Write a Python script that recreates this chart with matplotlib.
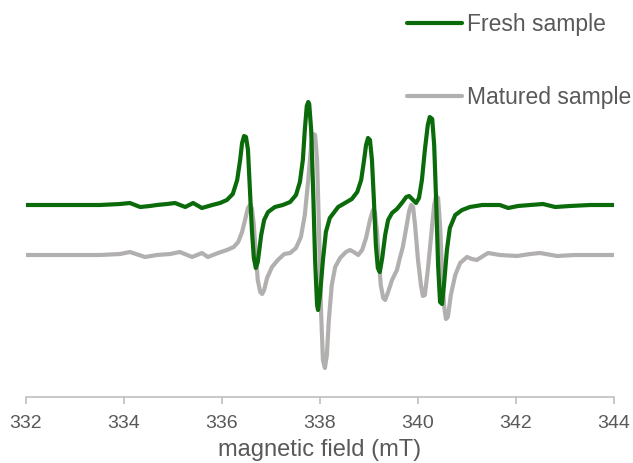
import matplotlib
matplotlib.use("Agg")
import matplotlib.pyplot as plt
import numpy as np

# ---- data ----
fresh_field = [332.00, 332.69, 333.51, 333.92, 334.12, 334.33, 334.53, 334.67, 334.88, 335.04,
               335.25, 335.41, 335.59, 335.80, 335.96, 336.10, 336.22, 336.31, 336.37, 336.41,
               336.45, 336.49, 336.53, 336.57, 336.61, 336.65, 336.69, 336.73, 336.80, 336.86,
               336.94, 337.08, 337.24, 337.39, 337.51, 337.59, 337.65, 337.69, 337.73, 337.76,
               337.78, 337.82, 337.86, 337.90, 337.94, 337.96, 338.00, 338.06, 338.12, 338.20,
               338.37, 338.51, 338.65, 338.76, 338.84, 338.90, 338.94, 338.98, 339.02, 339.06,
               339.10, 339.14, 339.18, 339.22, 339.27, 339.33, 339.39, 339.47, 339.57, 339.67,
               339.76, 339.82, 339.88, 339.96, 340.02, 340.08, 340.14, 340.20, 340.24, 340.29,
               340.33, 340.37, 340.41, 340.45, 340.49, 340.53, 340.59, 340.65, 340.76, 340.90,
               341.06, 341.31, 341.67, 341.84, 342.04, 342.29, 342.55, 342.80, 343.10, 343.51,
               344.00]
fresh_signal = [0, 0, 0, 1, 2, -2, -1, 0, 1, 2,
                -2, 2, -3, 0, 2, 5, 11, 25, 45, 62,
                69, 68, 55, 15, -25, -53, -63, -57, -30, -15,
                -7, -2, 0, 3, 10, 23, 45, 75, 99, 103,
                101, 75, 15, -55, -100, -105, -90, -55, -27, -13,
                -2, 2, 6, 13, 25, 45, 60, 67, 65, 45,
                5, -40, -63, -67, -53, -30, -15, -8, -4, 2,
                8, 9, 6, 2, 7, 25, 55, 80, 88, 86,
                60, 5, -60, -97, -99, -80, -45, -23, -10, -5,
                -2, 0, 0, -3, -1, 0, 1, -2, -1, 0,
                0]

matured_field = [332.00, 332.69, 333.51, 333.92, 334.12, 334.43, 334.67, 334.94, 335.14, 335.39,
                 335.59, 335.71, 335.92, 336.10, 336.24, 336.33, 336.41, 336.47, 336.53, 336.57,
                 336.61, 336.65, 336.69, 336.73, 336.78, 336.82, 336.86, 336.92, 337.02, 337.14,
                 337.27, 337.39, 337.51, 337.61, 337.69, 337.76, 337.82, 337.86, 337.90, 337.94,
                 337.98, 338.02, 338.06, 338.10, 338.14, 338.18, 338.24, 338.31, 338.41, 338.53,
                 338.61, 338.69, 338.78, 338.86, 338.94, 339.02, 339.08, 339.12, 339.16, 339.20,
                 339.24, 339.29, 339.33, 339.39, 339.47, 339.57, 339.63, 339.69, 339.76, 339.82,
                 339.86, 339.90, 339.94, 340.00, 340.06, 340.10, 340.14, 340.20, 340.27, 340.33,
                 340.37, 340.41, 340.45, 340.49, 340.53, 340.57, 340.61, 340.67, 340.76, 340.86,
                 341.00, 341.10, 341.20, 341.33, 341.43, 341.67, 342.02, 342.29, 342.49, 342.84,
                 343.20, 343.61, 344.00]
matured_signal = [0, 0, 0, 1, 3, -2, 0, 1, 3, -2,
                  2, -2, 2, 5, 8, 13, 23, 35, 47, 50,
                  47, 30, 0, -25, -37, -39, -35, -23, -12, -5,
                  1, 2, 7, 18, 40, 75, 110, 121, 120, 95,
                  25, -55, -105, -113, -100, -65, -30, -12, -3, 3,
                  5, 3, 0, 5, 17, 35, 45, 43, 25, -5,
                  -30, -43, -45, -37, -25, -15, -3, 8, 27, 44,
                  50, 48, 30, -5, -30, -41, -40, -15, 20, 50,
                  59, 57, 30, -15, -50, -64, -62, -40, -20, -8,
                  -2, -4, -5, -1, 2, 0, -1, 1, 2, -1,
                  0, 0, 0]

series_labels = ["Fresh sample", "Matured sample"]
xticks = [332, 334, 336, 338, 340, 342, 344]
xlabel = "magnetic field (mT)"

# ---- styling ----
fresh_offset = 192
matured_offset = 142
green = "#0b6b0b"
grey = "#b2afaf"
text_col = "#595959"

plt.rcParams["font.family"] = ["Liberation Sans", "DejaVu Sans"]

fig = plt.figure(figsize=(6.33, 4.63), dpi=100)
ax = fig.add_axes([26 / 633, 66 / 463, 588 / 633, 387 / 463])

ax.plot(matured_field, np.array(matured_signal) + matured_offset, color=grey, lw=3.0,
        solid_joinstyle="round", solid_capstyle="round", label=series_labels[1], zorder=2)
ax.plot(fresh_field, np.array(fresh_signal) + fresh_offset, color=green, lw=3.0,
        solid_joinstyle="round", solid_capstyle="round", label=series_labels[0], zorder=3)

ax.set_xlim(332, 344)
ax.set_ylim(0, 387)
ax.set_xticks(xticks)
ax.set_xticklabels([str(t) for t in xticks])
ax.set_yticks([])
for s in ["top", "right", "left"]:
    ax.spines[s].set_visible(False)
ax.spines["bottom"].set_color("#bfbfbf")
ax.spines["bottom"].set_linewidth(1.2)
ax.tick_params(axis="x", direction="out", length=5, width=1.2, color="#bfbfbf",
               labelsize=14, labelcolor=text_col, pad=8)
ax.set_xlabel(xlabel, fontsize=17, color=text_col, labelpad=5)

handles, labels = ax.get_legend_handles_labels()
leg = ax.legend(handles[::-1], labels[::-1], loc="upper left",
                bbox_to_anchor=(391 / 633, 466 / 463), bbox_transform=fig.transFigure,
                frameon=False, fontsize=16.5, handlelength=2.4, handletextpad=0.2,
                labelspacing=2.2, borderaxespad=0.3)
for t in leg.get_texts():
    t.set_color(text_col)
for h in leg.get_lines():
    h.set_linewidth(3.0)

fig.savefig("out.png", dpi=100)
